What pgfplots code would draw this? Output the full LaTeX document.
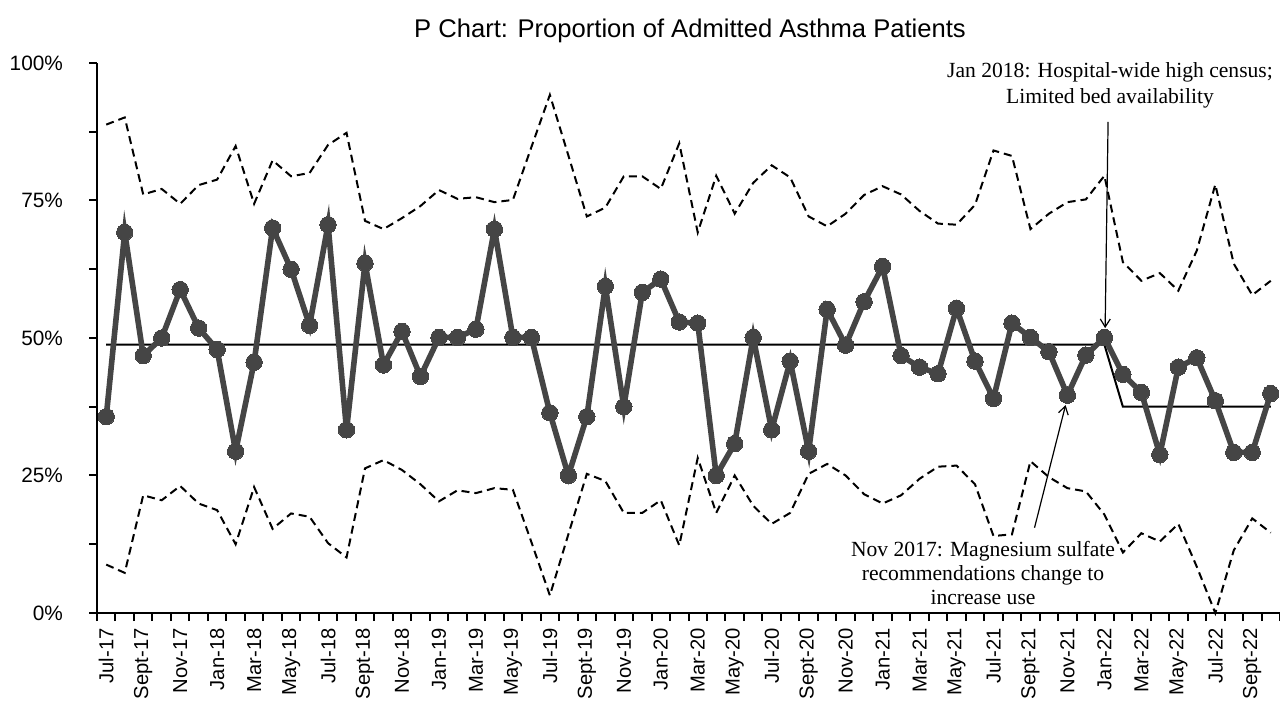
\documentclass[border=0pt]{standalone}
\usepackage{fontspec}
\setmainfont{Liberation Serif}
\newfontfamily\arial{Liberation Sans}
\usepackage{pgfplots}
\usepackage{pgfplotstable}
\pgfplotsset{compat=1.18}
\usetikzlibrary{arrows.meta}
\definecolor{dgray}{HTML}{454545}
\pgfplotstableread{
idx p ucl lcl cl
0 35.7 88.8 8.8 48.8
1 69.2 90.1 7.3 48.8
2 46.8 76.1 21.4 48.8
3 50.0 77.1 20.5 48.8
4 58.8 74.4 23.1 48.8
5 51.8 77.8 19.9 48.8
6 47.9 78.8 18.7 48.8
7 29.4 84.9 12.5 48.8
8 45.6 74.4 22.9 48.8
9 70.0 82.3 15.3 48.8
10 62.5 79.4 18.1 48.8
11 52.3 80.0 17.5 48.8
12 70.6 85.1 12.7 48.8
13 33.3 87.3 10.1 48.8
14 63.6 71.3 26.3 48.8
15 45.1 69.8 27.8 48.8
16 51.2 71.8 26.0 48.8
17 43.0 74.0 23.4 48.8
18 50.1 76.9 20.3 48.8
19 50.1 75.3 22.3 48.8
20 51.6 75.6 21.8 48.8
21 69.8 74.7 22.7 48.8
22 50.1 75.1 22.4 48.8
23 50.1 84.7 12.9 48.8
24 36.4 94.2 3.2 48.8
25 25.0 83.2 14.3 48.8
26 35.7 72.1 25.3 48.8
27 59.4 73.7 24.0 48.8
28 37.5 79.4 18.2 48.8
29 58.3 79.4 18.2 48.8
30 60.7 77.1 20.5 48.8
31 52.9 85.4 12.3 48.8
32 52.7 69.2 28.2 48.8
33 25.0 79.5 18.2 48.8
34 30.8 72.6 25.0 48.8
35 50.1 78.2 19.5 48.8
36 33.3 81.4 16.2 48.8
37 45.8 79.2 18.2 48.8
38 29.4 72.1 25.3 48.8
39 55.2 70.3 27.1 48.8
40 48.7 72.6 25.0 48.8
41 56.6 76.0 21.6 48.8
42 63.0 77.6 19.9 48.8
43 46.8 76.1 21.4 48.8
44 44.7 73.1 24.4 48.8
45 43.5 70.8 26.6 48.8
46 55.4 70.6 26.8 48.8
47 45.8 74.2 23.4 48.8
48 39.0 84.1 14.0 48.8
49 52.7 83.1 14.3 48.8
50 50.1 69.8 27.6 48.8
51 47.5 72.6 24.7 48.8
52 39.6 74.7 22.7 48.8
53 46.9 75.2 22.1 48.8
54 50.1 79.5 17.9 48.8
55 43.4 63.8 11.0 37.5
56 40.1 60.4 14.5 37.5
57 28.8 61.8 13.0 37.5
58 44.7 58.6 16.2 37.5
59 46.4 65.9 8.4 37.5
60 38.6 77.9 0.0 37.5
61 29.2 63.5 11.4 37.5
62 29.2 57.8 17.2 37.5
63 39.9 60.4 14.6 37.5
}\pchart
\begin{document}
\begin{tikzpicture}
\path[use as bounding box] (0,0) rectangle (640pt,351pt);
\begin{axis}[
  at={(48.5pt,44.5pt)}, anchor=south west,
  scale only axis, width=591.5pt, height=275pt,
  xmin=-0.5, xmax=63.5, ymin=0, ymax=100,
  axis x line*=bottom, axis y line*=left,
  axis line style={line width=1.2pt, black},
  xtick={0,2,...,62}, minor xtick={-0.5,0.5,...,63.5},
  major x tick style={draw=none},
  ytick={0,25,50,75,100}, minor ytick={12.5,37.5,62.5,87.5},
  tick align=outside, major tick length=4pt, minor tick length=4pt,
  every tick/.style={black, line width=1pt},
  xticklabels={Jul-17,Sept-17,Nov-17,Jan-18,Mar-18,May-18,Jul-18,Sept-18,Nov-18,Jan-19,Mar-19,May-19,Jul-19,Sept-19,Nov-19,Jan-20,Mar-20,May-20,Jul-20,Sept-20,Nov-20,Jan-21,Mar-21,May-21,Jul-21,Sept-21,Nov-21,Jan-22,Mar-22,May-22,Jul-22,Sept-22},
  x tick label style={rotate=90, anchor=east, font=\arial\fontsize{10.1}{12}\selectfont, inner sep=1pt, xshift=-2.5pt},
  yticklabels={0\%,25\%,50\%,75\%,100\%},
  y tick label style={font=\arial\fontsize{10.4}{12}\selectfont, xshift=-9.5pt},
  clip=false,
]
\addplot[black, line width=1pt, dash pattern=on 4pt off 2.5pt] table[x=idx,y=ucl]{\pchart};
\addplot[black, line width=1pt, dash pattern=on 4pt off 2.5pt] table[x=idx,y=lcl]{\pchart};
\addplot[black, line width=1pt] table[x=idx,y=cl]{\pchart};
\addplot[dgray, line width=2.8pt, mark=*, mark size=4.1pt, mark options={fill=dgray, draw=dgray, line width=0pt}] table[x=idx,y=p]{\pchart};
\draw[-{Straight Barb[length=4pt,width=5pt]}, line width=0.6pt] (axis cs:54.2,89.3) -- (axis cs:54.04,51.8);
\draw[-{Straight Barb[length=4pt,width=5pt]}, line width=0.6pt] (axis cs:50.22,15.5) -- (axis cs:51.9,37.8);
\end{axis}
\node[font=\arial\fontsize{12.8}{14}\selectfont] at (345pt,335.5pt) {P Chart: Proportion of Admitted Asthma Patients};
\node[anchor=north, align=center, font=\fontsize{10.8}{13}\selectfont, inner sep=0pt] at (555pt,320pt) {Jan 2018: Hospital-wide high census;\\ Limited bed availability};
\node[anchor=north, align=center, font=\fontsize{10.8}{12}\selectfont, inner sep=0pt] at (491.5pt,80.5pt) {Nov 2017: Magnesium sulfate\\ recommendations change to\\ increase use};
\end{tikzpicture}
\end{document}
